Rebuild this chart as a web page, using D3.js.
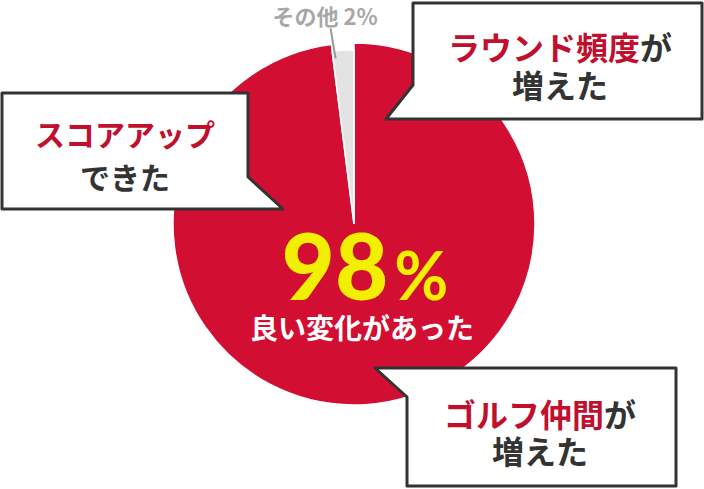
<!DOCTYPE html>
<html><head><meta charset="utf-8">
<script src="https://cdn.jsdelivr.net/npm/d3@7"></script>
<style>
html,body{margin:0;padding:0;background:#fff;}
svg{display:block;}
text{font-family:"Noto Sans CJK JP","Noto Sans",sans-serif;font-weight:700;}
</style></head>
<body>
<svg id="chart" width="704" height="489"></svg>
<script>
// data
const categories = ["良い変化があった", "その他"];
const values = [98, 2];
const sliceColors = ["#d20f32", "#e3e3e3"];
const mainLabel = "98";
const mainUnit = "%";
const mainCaption = "良い変化があった";
const otherLabel = "その他 2%";
const callouts = [
  { red: "ラウンド頻度", dark: "が", line2: "増えた" },
  { red: "スコアアップ", dark: "", line2: "できた" },
  { red: "ゴルフ仲間", dark: "が", line2: "増えた" }
];

const svg = d3.select("#chart");
const cx = 354, cy = 224, R = 181, Rg = 174;

const pie = d3.pie().sort(null).value(d => d);
const arcs = pie(values);
const g = svg.append("g").attr("transform", `translate(${cx},${cy})`);

g.selectAll("path.slice").data(arcs).join("path")
  .attr("class", "slice")
  .attr("d", (d, i) => d3.arc().innerRadius(0).outerRadius(i === 0 ? R : Rg)(d))
  .attr("fill", (d, i) => sliceColors[i])
  .attr("stroke", "#fff").attr("stroke-width", 1.5);

// other label with leader
const oa = arcs[1];
const mid = (oa.startAngle + oa.endAngle) / 2;
g.append("line")
  .attr("x1", Math.sin(mid) * (Rg - 8) - 8).attr("y1", -Math.cos(mid) * (Rg - 8))
  .attr("x2", Math.sin(mid) * (Rg - 8) - 13).attr("y2", -Math.cos(mid) * (Rg - 8) - 30)
  .attr("stroke", "#9a9a9a").attr("stroke-width", 2);
svg.append("text").attr("x", 325).attr("y", 25)
  .attr("text-anchor", "middle").attr("font-size", 22).attr("fill", "#a8a8a8")
  .text(otherLabel);

// central label
const big = svg.append("text").attr("x", 365).attr("y", 300)
  .attr("text-anchor", "middle").attr("fill", "#f2ef00");
big.append("tspan").attr("font-size", 92).attr("font-weight", 900)
  .attr("font-family", "Lato, Roboto, sans-serif").text(mainLabel);
big.append("tspan").attr("font-size", 66).attr("font-weight", 700).attr("dx", 6)
  .attr("font-family", "Lato, Roboto, sans-serif").text(mainUnit);
svg.append("text").attr("x", 362).attr("y", 339)
  .attr("text-anchor", "middle").attr("font-size", 28).attr("fill", "#fff")
  .text(mainCaption);

// callout bubbles
const bubbleShapes = [
  [[413,3],[702,3],[702,119],[386,119],[413,85]],
  [[2,93],[248,93],[248,177],[283,209],[2,209]],
  [[375,368],[676,368],[676,486],[407,486],[407,397]]
];
const textPos = [
  { x: 560, y1: 60, y2: 98, fs: 32 },
  { x: 125, y1: 146, y2: 189, fs: 30 },
  { x: 540, y1: 427, y2: 464, fs: 32 }
];
const line = d3.line().curve(d3.curveLinearClosed);
callouts.forEach((c, i) => {
  svg.append("path").attr("d", line(bubbleShapes[i]))
    .attr("fill", "#fff").attr("stroke", "#333").attr("stroke-width", 3)
    .attr("stroke-linejoin", "round");
  const p = textPos[i];
  const t1 = svg.append("text").attr("x", p.x).attr("y", p.y1)
    .attr("text-anchor", "middle").attr("font-size", p.fs);
  t1.append("tspan").attr("fill", "#c0102e").text(c.red);
  if (c.dark) t1.append("tspan").attr("fill", "#333").text(c.dark);
  svg.append("text").attr("x", p.x).attr("y", p.y2)
    .attr("text-anchor", "middle").attr("font-size", p.fs).attr("fill", "#333")
    .text(c.line2);
});
</script>
</body></html>
